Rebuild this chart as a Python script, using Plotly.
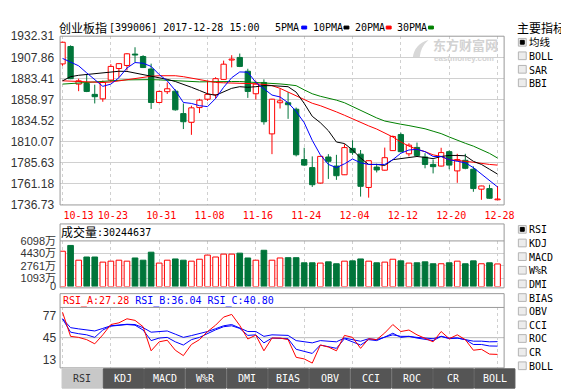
import plotly.graph_objects as go

W, H = 569, 391
def fx(x): return x / W
def fy(y): return 1 - y / H

# ---------------- data ----------------
dates = ["10-13","10-16","10-17","10-18","10-19","10-20","10-23","10-24","10-25","10-26","10-27",
         "10-30","10-31","11-01","11-02","11-03","11-06","11-07","11-08","11-09","11-10",
         "11-13","11-14","11-15","11-16","11-17","11-20","11-21","11-22","11-23","11-24",
         "11-27","11-28","11-29","11-30","12-01","12-04","12-05","12-06","12-07","12-08",
         "12-11","12-12","12-13","12-14","12-15","12-18","12-19","12-20","12-21","12-22",
         "12-25","12-26","12-27","12-28"]
open_ = [1900.2,1920.4,1876.8,1877.5,1864.9,1859.7,1881.5,1894.9,1898.4,1911.6,1908.8,
         1894.3,1855.5,1868.0,1868.6,1842.6,1832.5,1849.6,1859.3,1864.5,1882.3,
         1904.7,1907.7,1891.7,1865.6,1878.7,1819.1,1855.2,1855.2,1847.7,1789.3,
         1780.0,1762.1,1792.3,1781.8,1771.7,1802.3,1795.6,1757.0,1780.6,1777.0,
         1799.7,1818.3,1796.0,1803.4,1792.3,1783.7,1781.8,1798.5,1776.2,1788.5,
         1778.1,1755.0,1755.7,1742.7]
high = [1926.0,1921.7,1883.1,1887.9,1876.1,1880.9,1899.9,1901.0,1912.7,1919.5,1910.3,
        1900.5,1869.2,1878.7,1870.8,1854.4,1851.8,1859.7,1880.6,1884.8,1904.0,
        1910.3,1912.2,1894.6,1880.6,1882.3,1859.7,1871.2,1867.5,1849.6,1803.0,
        1793.0,1793.5,1795.6,1794.8,1807.1,1811.6,1800.4,1788.5,1784.5,1803.2,
        1817.2,1820.5,1808.2,1809.0,1796.7,1789.3,1803.0,1799.9,1796.0,1796.0,
        1781.4,1759.0,1760.2,1758.7]
low = [1898.0,1882.5,1868.6,1867.5,1854.4,1856.3,1879.2,1884.3,1892.6,1902.1,1895.4,
       1848.0,1854.6,1865.3,1846.0,1824.7,1818.0,1843.2,1857.4,1860.0,1882.0,
       1896.2,1896.5,1860.8,1858.9,1829.8,1795.6,1848.5,1836.5,1793.0,1781.8,
       1757.6,1761.5,1766.9,1765.8,1771.4,1794.8,1746.4,1745.2,1774.4,1776.5,
       1799.3,1798.2,1793.0,1793.7,1779.2,1773.3,1781.4,1778.1,1762.4,1778.1,
       1752.0,1742.7,1743.8,1742.3]
close = [1925.3,1883.1,1880.6,1868.3,1862.2,1878.7,1897.3,1900.5,1911.9,1910.5,1896.0,
         1855.5,1868.3,1871.4,1847.0,1833.2,1849.3,1858.2,1864.9,1883.1,1899.9,
         1905.8,1897.3,1868.3,1876.8,1833.2,1859.3,1857.4,1852.9,1794.9,1782.9,
         1760.2,1793.0,1787.3,1770.6,1803.2,1797.4,1758.3,1788.0,1777.3,1791.5,
         1816.1,1798.5,1806.0,1794.1,1783.7,1781.1,1797.4,1782.9,1789.3,1779.2,
         1755.7,1758.7,1744.5,1743.4]
volume = [4721,5493,3525,3950,3950,3268,3396,3525,3396,3821,3525,
          4593,3139,3525,3692,3525,3396,3654,4207,3950,4335,
          4335,4464,3821,3525,4850,3525,3821,3860,3860,3178,
          3178,3139,3306,3049,3396,3435,3692,3396,3178,3268,
          3654,3435,3139,3178,3306,3049,3049,3178,3396,3049,
          3435,3049,3178,3024]
ma5 = [1906.6,1902.1,1898.0,1889.8,1882.0,1874.2,1876.8,1884.2,1895.4,1901.8,1901.0,
       1897.3,1887.9,1880.6,1869.4,1855.5,1854.4,1851.8,1850.7,1860.0,1873.1,
       1884.2,1890.9,1890.6,1878.7,1871.2,1864.1,1861.9,1855.2,1845.1,1832.1,
       1811.6,1794.8,1783.7,1780.0,1784.4,1790.0,1785.6,1783.7,1783.7,1783.7,
       1789.2,1796.7,1800.4,1801.2,1798.5,1792.9,1792.9,1789.2,1787.3,1785.6,
       1780.0,1772.5,1765.0,1757.6]
ma10 = [1880.6,1885.4,1887.0,1887.9,1888.7,1889.8,1890.9,1891.7,1891.5,1889.8,1888.2,
        1886.1,1884.2,1882.3,1879.8,1876.8,1873.1,1869.4,1865.6,1863.8,1867.5,
        1871.9,1873.8,1873.1,1873.8,1875.0,1875.0,1874.8,1873.8,1867.5,1854.4,
        1839.5,1832.1,1822.8,1809.7,1807.9,1800.4,1791.1,1783.7,1783.7,1782.5,
        1789.2,1790.4,1792.3,1792.9,1791.8,1790.4,1792.9,1794.1,1794.1,1793.7,
        1787.3,1783.7,1778.1,1772.5]
ma20 = [1880.6,1880.3,1879.8,1879.2,1878.7,1878.7,1879.2,1880.6,1882.0,1883.7,1884.8,
        1885.9,1886.5,1886.8,1886.5,1885.4,1883.7,1881.4,1879.8,1878.7,1878.3,
        1878.1,1877.9,1877.5,1877.2,1876.4,1875.0,1871.9,1867.5,1863.0,1858.2,
        1854.6,1851.8,1848.5,1844.6,1840.7,1836.5,1832.1,1828.4,1824.7,1820.2,
        1815.5,1809.7,1804.9,1801.2,1798.5,1794.8,1792.9,1789.2,1787.9,1787.3,
        1786.2,1784.8,1783.7,1782.9]
ma30 = [1876.8,1877.5,1878.3,1879.2,1879.8,1880.6,1880.9,1881.2,1881.7,1882.0,1882.2,
        1882.0,1881.7,1881.2,1880.6,1880.0,1879.4,1879.4,1879.5,1879.8,1879.8,
        1879.8,1879.8,1879.4,1879.0,1878.4,1877.9,1877.0,1876.1,1875.0,1870.1,
        1865.6,1862.7,1860.8,1858.2,1855.2,1850.7,1847.0,1842.6,1837.6,1834.0,
        1831.7,1830.3,1828.7,1827.2,1825.0,1822.2,1819.4,1815.5,1811.6,1808.2,
        1804.9,1801.0,1796.5,1791.1]
rsi_a = [71.9,46.4,45.3,42.9,38.5,48.0,58.9,60.7,65.0,63.3,56.6,
         31.1,40.6,42.3,31.7,26.0,37.8,42.9,51.5,58.2,66.8,
         69.6,57.9,43.6,47.7,31.1,44.6,44.6,42.9,24.2,22.5,
         18.1,37.2,35.1,31.1,47.4,45.3,33.7,43.9,42.9,50.0,
         58.9,51.5,53.1,48.0,43.9,40.6,51.5,43.9,48.0,42.9,
         31.7,32.7,27.6,27.28]
rsi_b = [65.0,50.8,49.2,48.0,45.3,53.1,57.2,58.4,58.9,58.2,53.1,
         41.9,44.6,45.3,40.6,37.2,42.9,45.3,49.7,53.3,56.6,
         57.6,54.8,47.4,48.0,39.5,44.6,44.3,43.9,32.7,30.3,
         28.3,37.2,35.4,33.7,43.9,40.6,37.2,42.9,41.9,45.6,
         49.7,45.3,46.4,44.6,42.9,41.9,46.4,43.9,44.6,42.9,
         37.8,37.8,36.2,36.04]
rsi_c = [65.0,55.6,54.3,53.1,52.1,54.8,57.6,58.4,59.2,58.9,55.6,
         50.8,51.3,52.1,48.7,45.3,47.2,49.0,51.5,54.5,57.6,
         58.9,55.6,51.5,51.5,46.4,48.0,47.7,47.4,41.9,40.6,
         39.5,41.9,41.1,40.6,44.6,42.6,41.2,43.9,42.9,45.6,
         48.0,46.4,46.4,45.3,44.6,43.9,46.4,44.6,44.6,42.9,
         41.3,41.3,40.6,40.80]

price_ticks = [1736.73, 1761.18, 1785.63, 1810.07, 1834.52, 1858.97, 1883.41, 1907.86, 1932.31]
vol_ticks = [0, 1093, 2761, 4430, 6098]
date_tick_idx = list(range(0, len(dates), 6))
tab_labels = ["RSI", "KDJ", "MACD", "W%R", "DMI", "BIAS", "OBV", "CCI", "ROC", "CR", "BOLL"]
main_ind = ["均线", "BOLL", "SAR", "BBI"]
sub_ind = ["RSI", "KDJ", "MACD", "W%R", "DMI", "BIAS", "OBV", "CCI", "ROC", "CR", "BOLL"]

RED = "#ff0000"
GREEN = "#00753a"
BLUE = "#0000ff"
MAGREEN = "#008000"
MONO = "DejaVu Sans Mono"
SANS = "Liberation Sans, Noto Sans CJK SC"
CJK = "Noto Sans CJK SC"
FRAME = "#999999"
GRID = "#d0d0d0"

X = list(range(len(dates)))
up = [c >= o for o, c in zip(open_, close)]

fig = go.Figure()

# candle wicks (do not cross bodies)
for flag, col in [(True, RED), (False, GREEN)]:
    wx, wy = [], []
    for i in X:
        if up[i] != flag:
            continue
        top, bot = max(open_[i], close[i]), min(open_[i], close[i])
        if high[i] > top:
            wx += [i, i, None]; wy += [high[i], top, None]
        if low[i] < bot:
            wx += [i, i, None]; wy += [bot, low[i], None]
    fig.add_trace(go.Scatter(x=wx, y=wy, mode="lines", line=dict(color=col, width=1),
                             xaxis="x", yaxis="y", hoverinfo="skip", showlegend=False))

# candle bodies
for flag, fill, col in [(True, "white", RED), (False, GREEN, GREEN)]:
    xs = [i for i in X if up[i] == flag]
    fig.add_trace(go.Bar(x=xs,
                         y=[max(abs(close[i] - open_[i]), 0.9) for i in xs],
                         base=[min(open_[i], close[i]) for i in xs],
                         width=0.66, marker=dict(color=fill, line=dict(color=col, width=1)),
                         xaxis="x", yaxis="y", hoverinfo="skip", showlegend=False))

# moving averages
for vals, col in [(ma30, MAGREEN), (ma20, RED), (ma10, "#000000"), (ma5, BLUE)]:
    fig.add_trace(go.Scatter(x=X, y=vals, mode="lines", line=dict(color=col, width=1),
                             xaxis="x", yaxis="y", hoverinfo="skip", showlegend=False))

# volume
for flag, fill, col in [(True, "white", RED), (False, GREEN, GREEN)]:
    xs = [i for i in X if up[i] == flag]
    fig.add_trace(go.Bar(x=xs, y=[volume[i] for i in xs], width=0.7,
                         marker=dict(color=fill, line=dict(color=col, width=1)),
                         xaxis="x2", yaxis="y2", hoverinfo="skip", showlegend=False))

# RSI
for vals, col in [(rsi_c, BLUE), (rsi_b, BLUE), (rsi_a, RED)]:
    fig.add_trace(go.Scatter(x=X, y=vals, mode="lines", line=dict(color=col, width=1),
                             xaxis="x3", yaxis="y3", hoverinfo="skip", showlegend=False))

xrange = [-0.305, 54.817]
xdom = [fx(53), fx(505)]
label_pos = [1.98] + [i + 0.25 for i in date_tick_idx[1:]]

common_x = dict(domain=xdom, range=xrange, zeroline=False, showline=False, ticks="")
fig.update_layout(
    width=W, height=H, margin=dict(l=0, r=0, t=0, b=0),
    paper_bgcolor="white", plot_bgcolor="white", barmode="overlay", showlegend=False,
    xaxis=dict(**common_x, anchor="y", tickvals=label_pos,
               ticktext=[dates[i] for i in date_tick_idx], showgrid=False,
               tickfont=dict(family=MONO, size=10, color=RED), ticklabelstandoff=3,
               minor=dict(tickvals=date_tick_idx, showgrid=True, gridcolor=GRID,
                          griddash="3px,3px", gridwidth=1, ticks="")),
    yaxis=dict(domain=[fy(197), fy(22)], range=[price_ticks[0], price_ticks[-1]], anchor="x",
               tickvals=price_ticks, ticktext=[f"{v:.2f}" for v in price_ticks],
               showgrid=True, gridcolor=GRID, zeroline=False, ticks="",
               tickfont=dict(family=SANS, size=12, color="#333333"), ticklabelstandoff=5),
    xaxis2=dict(**common_x, anchor="y2", tickvals=date_tick_idx, showticklabels=False,
                showgrid=True, gridcolor=GRID, griddash="3px,3px"),
    yaxis2=dict(domain=[fy(281.7), fy(234.3)], range=[0, vol_ticks[-1]], anchor="x2",
                tickvals=vol_ticks, ticktext=[str(v) + ("万" if v else "") for v in vol_ticks],
                showgrid=True, gridcolor=GRID, zeroline=False, ticks="",
                tickfont=dict(family=SANS, size=11, color="#333333"), ticklabelstandoff=3),
    xaxis3=dict(**common_x, anchor="y3", tickvals=date_tick_idx, showticklabels=False,
                showgrid=True, gridcolor=GRID, griddash="3px,3px"),
    yaxis3=dict(domain=[fy(366), fy(303.3)], range=[13, 77], anchor="x3",
                tickvals=[21.5, 45, 68.4], ticktext=["13", "45", "77"],
                showgrid=False, zeroline=False, ticks="",
                tickfont=dict(family=SANS, size=12, color="#333333"), ticklabelstandoff=3),
)

shapes = []
def rect(x0, y0, x1, y1, line=FRAME, fill=None, width=1):
    shapes.append(dict(type="rect", xref="paper", yref="paper", x0=fx(x0), x1=fx(x1),
                       y0=fy(y1), y1=fy(y0), line=dict(color=line, width=width),
                       fillcolor=fill, layer="above"))
def hline(x0, x1, y, col=FRAME):
    shapes.append(dict(type="line", xref="paper", yref="paper", x0=fx(x0), x1=fx(x1),
                       y0=fy(y), y1=fy(y), line=dict(color=col, width=1), layer="above"))

rect(53, 22, 505, 197)
rect(53, 216.7, 505, 283)
hline(53, 505, 234.3)
rect(53, 289, 505, 366)
hline(53, 505, 303.3)
shapes.append(dict(type="line", xref="paper", yref="y3", x0=xdom[0], x1=xdom[1], y0=45, y1=45,
                   line=dict(color="#bbbbbb", width=1), layer="below"))

# legend swatches of the MA lines
for x0, col in [(299, BLUE), (342, "#000000"), (385, RED), (428, MAGREEN)]:
    rect(x0, 11.5, x0 + 5, 14.5, line=col, fill=col)

# watermark logo (simple swoosh)
shapes.append(dict(type="path", xref="paper", yref="paper", layer="below",
                   path=" ".join([
                       f"M {fx(412)},{fy(44)}", f"Q {fx(414)},{fy(30)} {fx(428)},{fy(26)}",
                       f"Q {fx(420)},{fy(33)} {fx(419)},{fy(44)} Z"]),
                   fillcolor="#d8d8d8", line=dict(width=0)))

annotations = []
def txt(x, y, s, size=10, color="#000000", family=MONO, anchor="left", bold=False, yanchor="middle"):
    if bold:
        s = "<b>" + s + "</b>"
    annotations.append(dict(x=fx(x), y=fy(y), xref="paper", yref="paper", text=s,
                            showarrow=False, xanchor=anchor, yanchor=yanchor, borderpad=0,
                            borderwidth=0,
                            font=dict(family=family, size=size, color=color)))

# title and MA legend
txt(52, 12.5, "创业板指", size=12, family=CJK)
txt(102.5, 13, "[399006] 2017-12-28 15:00")
for x0, s in [(271.5, "5PMA"), (310, "10PMA"), (353, "20PMA"), (396, "30PMA")]:
    txt(x0, 13, s)

# watermark
txt(433, 40.5, "东方财富网", size=13, color="#d2d2d2", family=CJK, bold=True, yanchor="bottom")
txt(434, 40.5, "eastmoney.com", size=8, color="#d2d2d2", family="Liberation Sans", bold=True,
    yanchor="top")

# sub panel titles
txt(54, 225, "成交量", size=12, family=CJK)
txt(90.5, 225.5, ":30244637")
annotations.append(dict(x=fx(54), y=fy(296.5), xref="paper", yref="paper", showarrow=False,
                        xanchor="left", yanchor="middle",
                        font=dict(family=MONO, size=10, color=RED),
                        text="RSI_A:27.28 <span style='color:#0000ff'>RSI_B:36.04 RSI_C:40.80</span>"))

# main indicator selector
txt(518, 13, "主要指标", size=12, family=CJK)
def checkbox(y, checked):
    rect(519.5, y - 4, 527.5, y + 4, line="#b4b4b4", fill="#ececec")
    if checked:
        rect(521.5, y - 2, 525.5, y + 2, line="#000000", fill="#000000")
for k, s in enumerate(main_ind):
    yc = 28.3 + 14 * k
    checkbox(yc, k == 0)
    if s == "均线":
        txt(530, 27.8, s, size=10.5, family=CJK)
    else:
        txt(530.5, yc + 1, s)
for k, s in enumerate(sub_ind):
    yc = 222.3 + 14.15 * k
    checkbox(yc, k == 0)
    txt(530.5, yc + 0.5, s)

# bottom tabs
for k, s in enumerate(tab_labels):
    x0 = 55 + 42 * k
    active = k == 0
    rect(x0, 367, x0 + 41, 387, line="#c8c8c8" if active else "#555555",
         fill="#c8c8c8" if active else "#555555")
    txt(x0 + 20.5, 377.5, s, color="#333333" if active else "#ffffff", anchor="center")

fig.update_layout(shapes=shapes, annotations=annotations)
fig.write_html("out.html")
